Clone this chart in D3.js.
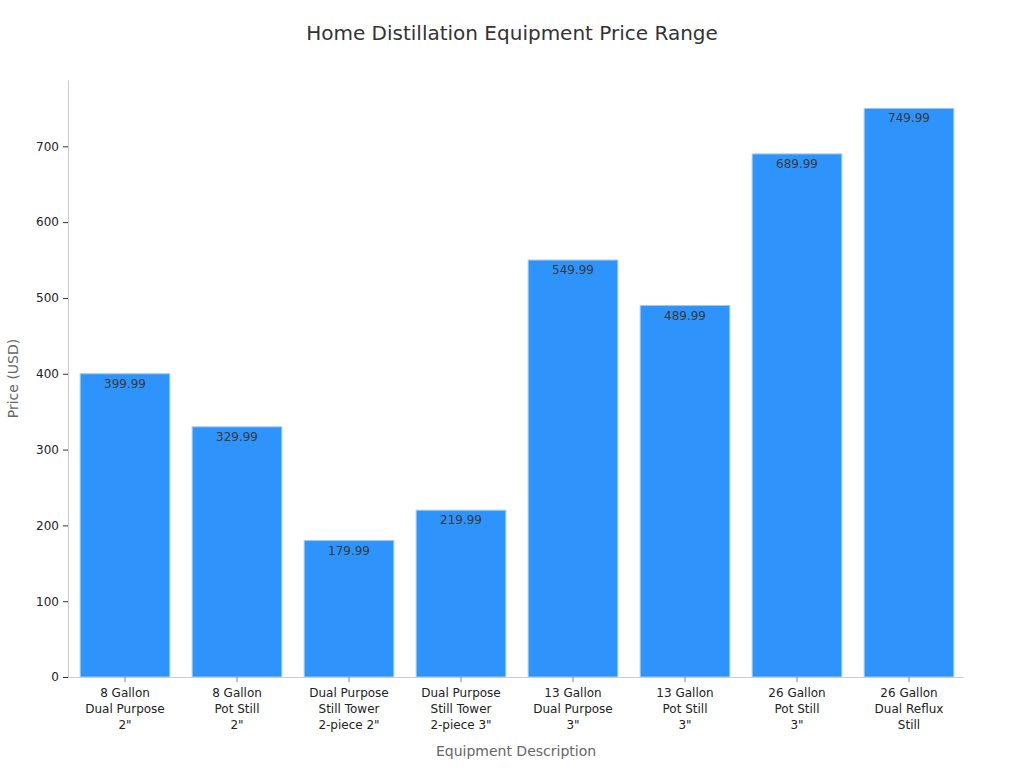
<!DOCTYPE html>
<html>
<head>
<meta charset="utf-8">
<script src="https://cdn.jsdelivr.net/npm/d3@7"></script>
<style>
  body { margin: 0; background: #fff; }
  text { font-family: "DejaVu Sans", sans-serif; }
</style>
</head>
<body>
<svg id="chart" width="1024" height="768"></svg>
<script>
// data
const categories = [
  ["8 Gallon", "Dual Purpose", "2\""],
  ["8 Gallon", "Pot Still", "2\""],
  ["Dual Purpose", "Still Tower", "2-piece 2\""],
  ["Dual Purpose", "Still Tower", "2-piece 3\""],
  ["13 Gallon", "Dual Purpose", "3\""],
  ["13 Gallon", "Pot Still", "3\""],
  ["26 Gallon", "Pot Still", "3\""],
  ["26 Gallon", "Dual Reflux", "Still"]
];
const prices = [399.99, 329.99, 179.99, 219.99, 549.99, 489.99, 689.99, 749.99];
const yTicks = [0, 100, 200, 300, 400, 500, 600, 700];

const margin = { top: 80, right: 60, bottom: 91, left: 68 };
const width = 1024, height = 768;

const svg = d3.select("#chart");

const keys = categories.map((c, i) => i);

const x = d3.scaleBand()
  .domain(keys)
  .range([margin.left + 1, width - margin.right + 1])
  .paddingInner(0.2)
  .paddingOuter(0.1);

const y = d3.scaleLinear()
  .domain([0, d3.max(prices) * 1.05])
  .range([height - margin.bottom, margin.top]);

// title
svg.append("text")
  .attr("x", width / 2)
  .attr("y", 40)
  .attr("text-anchor", "middle")
  .attr("font-size", 20)
  .attr("fill", "#333")
  .text("Home Distillation Equipment Price Range");

// bars
svg.append("g")
  .selectAll("rect")
  .data(prices)
  .join("rect")
  .attr("x", (d, i) => x(i))
  .attr("y", d => y(d))
  .attr("width", x.bandwidth())
  .attr("height", d => y(0) - y(d))
  .attr("fill", "#2E93FA")
  .attr("stroke", "#9cc9f7")
  .attr("stroke-width", 1);

// value labels
svg.append("g")
  .selectAll("text")
  .data(prices)
  .join("text")
  .attr("x", (d, i) => x(i) + x.bandwidth() / 2)
  .attr("y", d => y(d) + 14)
  .attr("text-anchor", "middle")
  .attr("font-size", 12)
  .attr("fill", "#3a3a3a")
  .text(d => d.toFixed(2));

// y axis
const yAxis = svg.append("g")
  .attr("transform", `translate(${margin.left},0)`)
  .call(d3.axisLeft(y).tickValues(yTicks).tickSize(5).tickSizeOuter(0).tickPadding(4));
yAxis.select(".domain").attr("stroke", "#ccc");
yAxis.selectAll(".tick line").attr("stroke", "#333");
yAxis.selectAll(".tick text").attr("font-size", 12).attr("fill", "#222")
  .style("font-family", "DejaVu Sans, sans-serif");

// x axis
const xAxis = svg.append("g")
  .attr("transform", `translate(0,${height - margin.bottom})`)
  .call(d3.axisBottom(x).tickSize(5).tickSizeOuter(0).tickPadding(6).tickFormat(""));
xAxis.select(".domain").attr("stroke", "#ccc").attr("d", `M${margin.left},0.5H${width - margin.right}`);
xAxis.selectAll(".tick line").attr("stroke", "#888");
xAxis.selectAll(".tick text").remove();

xAxis.selectAll(".tick")
  .append("text")
  .attr("fill", "#222")
  .attr("font-size", 12)
  .attr("text-anchor", "middle")
  .selectAll("tspan")
  .data(i => categories[i])
  .join("tspan")
  .attr("x", 0)
  .attr("y", (d, j) => 20 + j * 16)
  .text(d => d);

// axis titles
svg.append("text")
  .attr("x", (margin.left + width - margin.right) / 2)
  .attr("y", 756)
  .attr("text-anchor", "middle")
  .attr("font-size", 14)
  .attr("fill", "#666")
  .text("Equipment Description");

svg.append("text")
  .attr("transform", `translate(18,${(margin.top + height - margin.bottom) / 2}) rotate(-90)`)
  .attr("text-anchor", "middle")
  .attr("font-size", 14)
  .attr("fill", "#666")
  .text("Price (USD)");
</script>
</body>
</html>
